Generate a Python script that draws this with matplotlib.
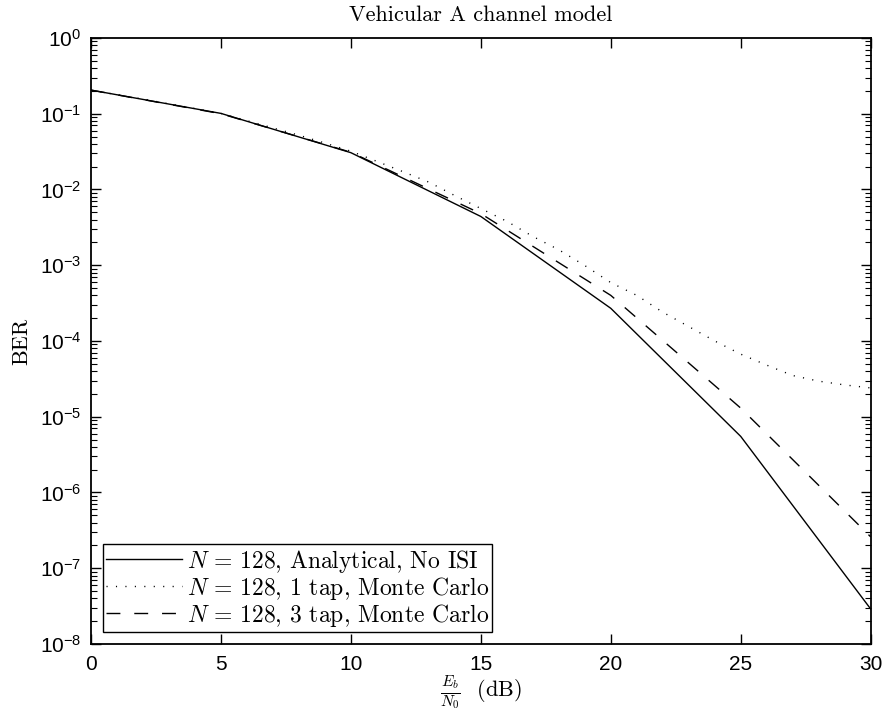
import numpy as np
import matplotlib
matplotlib.use('Agg')
import matplotlib.pyplot as plt
from matplotlib.font_manager import FontProperties

plt.rcParams['font.family'] = ['Liberation Sans', 'DejaVu Sans']
plt.rcParams['mathtext.fontset'] = 'custom'
plt.rcParams['mathtext.rm'] = 'Liberation Sans'
plt.rcParams['mathtext.it'] = 'Liberation Sans:italic'

# Eb/N0 in dB
snr_5db = [0, 5, 10, 15, 20, 25, 30]
ber_analytical = [0.205, 0.101, 0.0306, 0.0044, 2.7e-4, 5.5e-6, 2.9e-8]
ber_3tap = [0.205, 0.100, 0.031, 0.0048, 4.0e-4, 1.3e-5, 2.6e-7]

snr_1db = list(range(0, 31))
ber_1tap = [0.205, 0.178, 0.156, 0.135, 0.117, 0.101, 0.081, 0.065, 0.052, 0.041, 0.032,
            0.0235, 0.0172, 0.0125, 0.0083, 0.0056, 0.0038, 0.0024, 0.0016, 9.9e-4, 5.9e-4,
            4.0e-4, 2.4e-4, 1.55e-4, 1.0e-4, 6.7e-5, 4.8e-5, 3.5e-5, 2.95e-5, 2.63e-5, 2.4e-5]

labels = [r'$N\,=\,128$, Analytical, No ISI',
          r'$N\,=\,128$, 1 tap, Monte Carlo',
          r'$N\,=\,128$, 3 tap, Monte Carlo']

fig = plt.figure(figsize=(8.86, 7.15), dpi=100)
ax = fig.add_axes([0.1027, 0.0993, 0.880, 0.8476])

ax.semilogy(snr_5db, ber_analytical, color='black', linewidth=1.0, label=labels[0])
ax.semilogy(snr_1db, ber_1tap, color='black', linewidth=1.0, linestyle=(0, (0.8, 6.0)), label=labels[1])
ax.semilogy(snr_5db, ber_3tap, color='black', linewidth=1.0, linestyle=(0, (10, 10)), label=labels[2])

ax.set_xlim(0, 30)
ax.set_ylim(1e-8, 1)
ax.set_xticks(np.arange(0, 31, 5))
ax.set_yticks([10.0 ** k for k in range(-8, 1)])

ax.tick_params(which='both', direction='in', top=True, right=True, labelsize=15)
ax.tick_params(which='major', length=7, width=1.0)
ax.tick_params(which='minor', length=4, width=0.8)
ax.tick_params(axis='x', which='minor', bottom=False, top=False)
ax.tick_params(axis='x', pad=8)
ax.tick_params(axis='y', pad=7)
for s in ax.spines.values():
    s.set_linewidth(1.3)

cm = dict(family='cmr10', math_fontfamily='cm')
ax.set_title('Vehicular A channel model', fontsize=16, pad=12, **cm)
ax.set_xlabel(r'$\frac{E_b}{N_0}$  (dB)', fontsize=16, labelpad=0, **cm)
ax.set_ylabel('BER', fontsize=16, labelpad=6, **cm)

leg = ax.legend(loc='lower left', prop=FontProperties(family='cmr10', size=17, math_fontfamily='cm'),
                handlelength=3.2, handletextpad=0.2, borderaxespad=0.5,
                fancybox=False, edgecolor='black', framealpha=1,
                borderpad=0.15, labelspacing=0.0)
leg.get_frame().set_linewidth(1.0)

fig.savefig('out.png', dpi=100)
